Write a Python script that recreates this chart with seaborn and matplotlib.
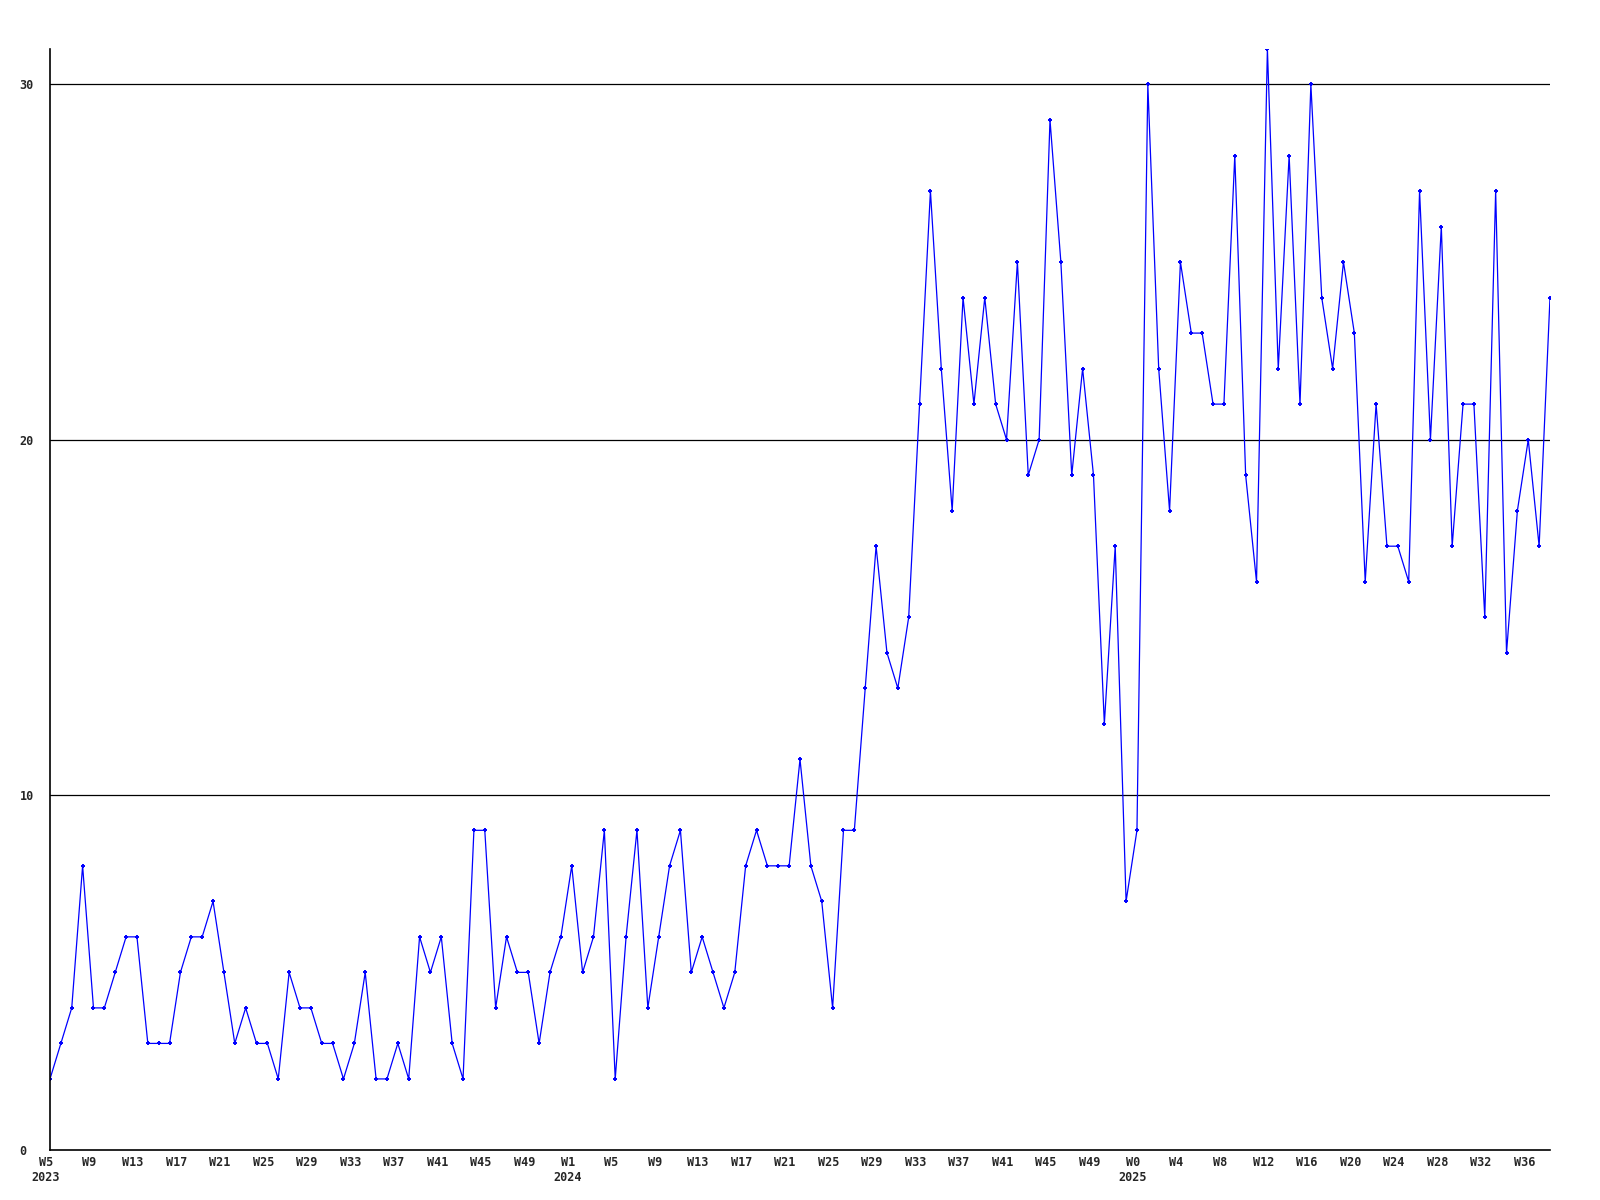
"""
Weekly counts, W5 2023 through W38 2025, drawn as a plain line chart
with point markers in the style of an old server-side chart.
"""
import pandas as pd
import matplotlib
matplotlib.use("Agg")
import matplotlib.pyplot as plt
import matplotlib.transforms as mtransforms
import seaborn as sns

# one value per week, starting at W5 2023
values = [
    2, 3, 4, 8, 4, 4, 5, 6, 6, 3, 3, 3, 5, 6, 6, 7, 5, 3, 4, 3,
    3, 2, 5, 4, 4, 3, 3, 2, 3, 5, 2, 2, 3, 2, 6, 5, 6, 3, 2, 9,
    9, 4, 6, 5, 5, 3, 5, 6, 8, 5, 6, 9, 2, 6, 9, 4, 6, 8, 9, 5,
    6, 5, 4, 5, 8, 9, 8, 8, 8, 11, 8, 7, 4, 9, 9, 13, 17, 14, 13, 15,
    21, 27, 22, 18, 24, 21, 24, 21, 20, 25, 19, 20, 29, 25, 19, 22, 19, 12, 17, 7,
    9, 30, 22, 18, 25, 23, 23, 21, 21, 28, 19, 16, 31, 22, 28, 21, 30, 24, 22, 25,
    23, 16, 21, 17, 17, 16, 27, 20, 26, 17, 21, 21, 15, 27, 14, 18, 20, 17, 24,
]

# a label every fourth week
tick_labels = [
    "W5\n2023", "W9", "W13", "W17", "W21", "W25", "W29", "W33", "W37", "W41", "W45", "W49",
    "W1\n2024", "W5", "W9", "W13", "W17", "W21", "W25", "W29", "W33", "W37", "W41", "W45", "W49",
    "W0\n2025", "W4", "W8", "W12", "W16", "W20", "W24", "W28", "W32", "W36",
]
y_ticks = [0, 10, 20, 30]

df = pd.DataFrame({"week": range(len(values)), "count": values})

sns.set_style("white")
plt.rcParams["font.family"] = ["DejaVu Sans Mono"]

fig = plt.figure(figsize=(16, 12), dpi=100)
ax = fig.add_axes([0.03125, 0.0417, 0.9375, 0.9175])

sns.lineplot(data=df, x="week", y="count", ax=ax, color="#0000FF",
             linewidth=0.9, marker="+", markersize=3.2, markeredgewidth=1.4,
             markeredgecolor="#0000FF", estimator=None)

ax.set_xlim(0, len(values) - 1)
ax.set_ylim(0, max(values))

for v in y_ticks[1:]:
    ax.axhline(v, color="black", linewidth=0.9, zorder=0)

ax.set_xticks(range(0, 4 * len(tick_labels), 4))
ax.set_xticklabels(tick_labels, fontsize=8.5, fontweight="bold",
                   linespacing=1.25, va="top")
ax.set_yticks(y_ticks)
ax.set_yticklabels([str(v) for v in y_ticks], fontsize=8.5,
                   fontweight="bold", ha="left")
ax.tick_params(axis="x", length=0, pad=4)
ax.tick_params(axis="y", length=0, pad=22)

# the week labels sit a few pixels left of their points
shift = mtransforms.ScaledTranslation(-4 / 100, 0, fig.dpi_scale_trans)
for lab in ax.get_xticklabels():
    lab.set_transform(lab.get_transform() + shift)

ax.set_xlabel("")
ax.set_ylabel("")
for side in ("top", "right"):
    ax.spines[side].set_visible(False)
for side in ("left", "bottom"):
    ax.spines[side].set_color("black")
    ax.spines[side].set_linewidth(1.2)

fig.savefig("out.png", dpi=100)
